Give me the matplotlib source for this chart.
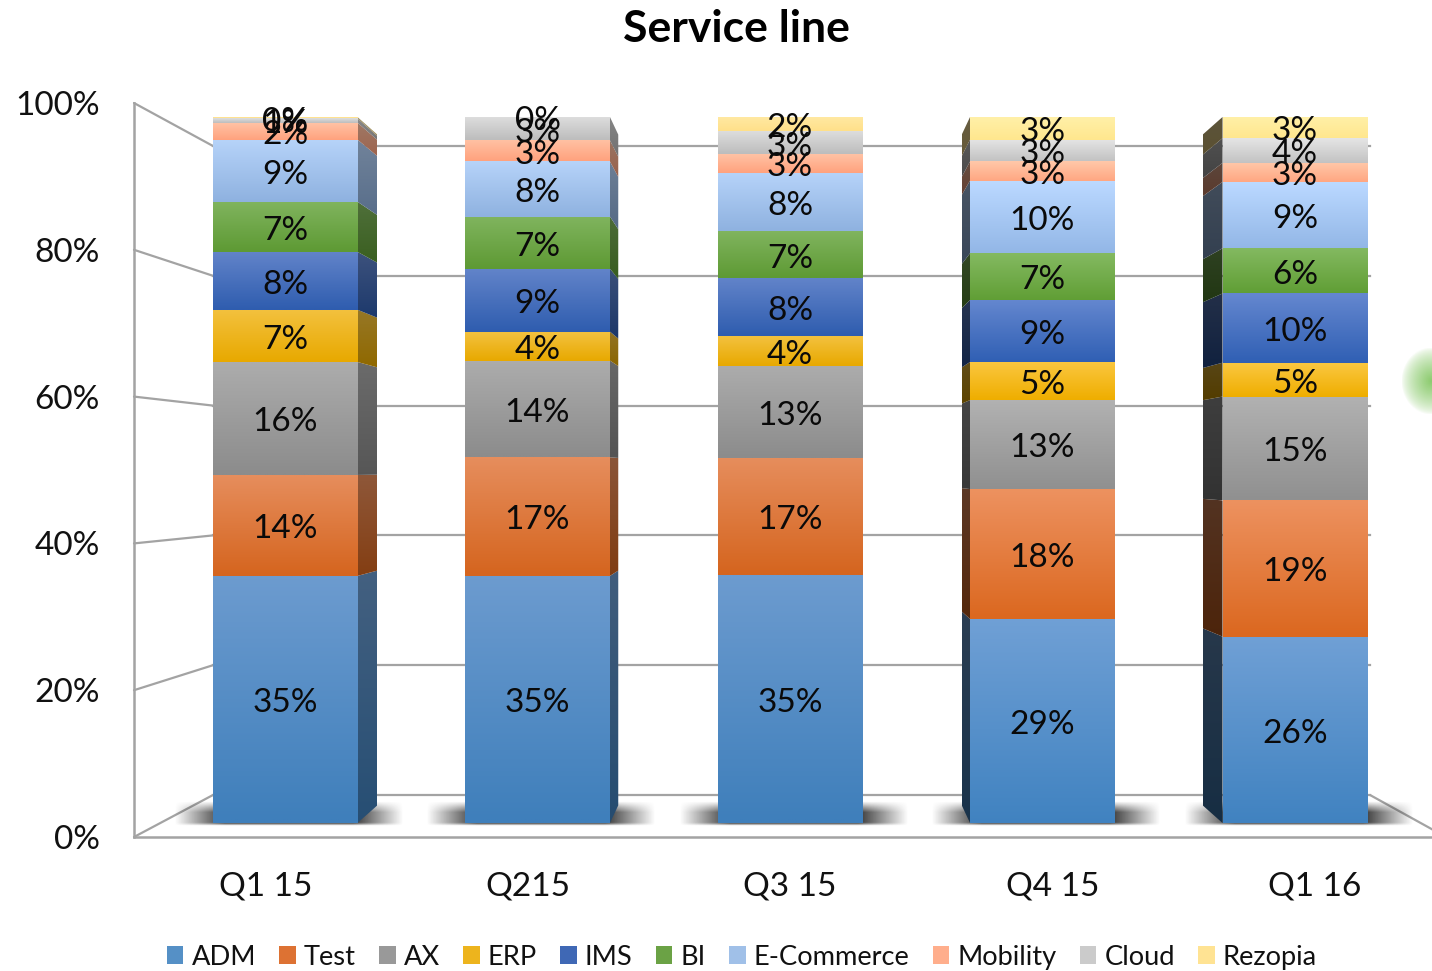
import numpy as np
import matplotlib
matplotlib.use("Agg")
import matplotlib.pyplot as plt
from matplotlib.patches import Polygon, ConnectionPatch, Patch
from matplotlib.colors import to_rgb

plt.rcParams['font.family'] = ['Lato', 'DejaVu Sans']

quarters = ['Q1 15', 'Q215', 'Q3 15', 'Q4 15', 'Q1 16']
adm      = [35.0, 35.0, 35.1, 28.9, 26.4]
test     = [14.3, 16.8, 16.6, 18.4, 19.3]
ax_line  = [16.0, 13.7, 13.1, 12.6, 14.7]
erp      = [7.4, 4.1, 4.2, 5.4, 4.8]
ims      = [8.2, 8.9, 8.2, 8.8, 9.8]
bi       = [7.1, 7.4, 6.6, 6.6, 6.4]
ecommerce = [8.8, 7.8, 8.3, 10.3, 9.4]
mobility = [2.4, 3.0, 2.6, 2.7, 2.7]
cloud    = [0.6, 3.3, 3.3, 3.1, 3.5]
rezopia  = [0.2, 0.0, 2.0, 3.2, 3.0]
series_names = ['ADM', 'Test', 'AX', 'ERP', 'IMS', 'BI', 'E-Commerce', 'Mobility', 'Cloud', 'Rezopia']
series_values = [adm, test, ax_line, erp, ims, bi, ecommerce, mobility, cloud, rezopia]
top_colors = ['#6C9BCF', '#E68D5C', '#ACACAC', '#F3C13E', '#6183C9', '#80B45E', '#B6D3F9', '#FFC2A4', '#DEDEDE', '#FFE9A3']
bot_colors = ['#3F7FBB', '#D5651F', '#8C8C8C', '#E8A900', '#2F5DAF', '#5E9A34', '#8FB2E0', '#FFA27E', '#BDBDBD', '#FFE08A']
leg_colors = ['#5590C6', '#DD7233', '#999999', '#EDB41D', '#3F68B5', '#6BA245', '#A0C0E8', '#FFAE8C', '#CBCBCB', '#FFE393']
side_shade = [0.62, 0.60, 0.60, 0.40, 0.36]
front_gain = [1.0, 1.0, 1.0, 1.03, 1.03]
GRID = '#A3A3A3'
W, H = 1432, 971


def box(l, t, r, b):
    return [l / W, 1 - b / H, (r - l) / W, (b - t) / H]


fig = plt.figure(figsize=(W / 100, H / 100), dpi=100, facecolor='white')

# back wall
back = fig.add_axes(box(213, 146, 1370, 795), zorder=0)
back.set_xlim(0, 1)
back.set_ylim(0, 100)
back.set_yticks(range(0, 101, 20))
back.set_xticks([])
back.tick_params(left=False, labelleft=False)
back.grid(axis='y', color=GRID, lw=1.6)
for s in back.spines.values():
    s.set_visible(False)
for g in back.get_ygridlines():
    g.set_clip_on(False)

# front axis frame with tick labels
frame = fig.add_axes(box(134, 103, 1446, 837), zorder=1)
frame.patch.set_alpha(0)
frame.set_xlim(-0.5, 4.5)
frame.set_ylim(0, 100)
frame.set_yticks(range(0, 101, 20))
frame.set_yticklabels([f'{v}%' for v in range(0, 101, 20)], fontsize=24, color='#111111')
frame.set_xticks(range(5))
frame.set_xticklabels(quarters, fontsize=24, color='#111111')
frame.tick_params(axis='y', length=0, pad=24.5)
frame.tick_params(axis='x', length=0, pad=25)
for n in ('top', 'right'):
    frame.spines[n].set_visible(False)
for n in ('left', 'bottom'):
    frame.spines[n].set_color(GRID)
    frame.spines[n].set_linewidth(1.8)

for v in range(0, 101, 20):
    fig.add_artist(ConnectionPatch((-0.5, v), (0, v), coordsA=frame.transData, coordsB=back.transData,
                                   color=GRID, lw=1.6, zorder=0.5))
fig.add_artist(ConnectionPatch((4.5, 0), (1, 0), coordsA=frame.transData, coordsB=back.transData,
                               color=GRID, lw=1.6, zorder=0.5))

# bars plane
ax = fig.add_axes(box(158.75, 117, 1421.25, 823), zorder=2)
ax.patch.set_alpha(0)
ax.set_autoscale_on(False)
ax.set_xlim(-0.5, 4.5)
ax.set_ylim(0, 100)
ax.axis('off')

HALF = 0.287
LABEL_SHIFT = 0.55


def depth_x(x):
    return 2 + (x - 2) * 0.954


def depth_y(y):
    return 2.5 + 0.95 * y


def grad(c_top, c_bot, n=32):
    t = np.linspace(0, 1, n)[:, None, None]
    return (1 - t) * np.array(to_rgb(c_top))[None, None, :] + t * np.array(to_rgb(c_bot))[None, None, :]


# floor shadows
for i in range(5):
    nx, ny = 120, 30
    xs = np.linspace(0, 1, nx)
    ys = np.linspace(0, 1, ny)
    fx = np.clip(np.minimum(xs, 1 - xs) / 0.22, 0, 1)
    fy = np.where(ys < 0.88, np.clip(ys / 0.45, 0, 1), np.clip((1 - ys) / 0.12, 0, 1))
    a = np.outer(fy, fx) * 0.92
    img = np.zeros((ny, nx, 4))
    img[..., :3] = 0.13
    img[..., 3] = a
    ax.imshow(img, extent=(i - 0.44, i + 0.47, -0.4, 3.1), aspect='auto', zorder=1,
              interpolation='bilinear', clip_on=False)

# stacked bars
for i in range(5):
    bottom = 0.0
    xf = i + HALF if i < 2 else i - HALF
    xb = depth_x(xf)
    for k, vals in enumerate(series_values):
        v = vals[i]
        top = bottom + v
        if v > 0:
            if abs(xb - xf) > 1e-6:
                poly = Polygon([(xf, bottom), (xf, top), (xb, depth_y(top)), (xb, depth_y(bottom))],
                               closed=True, transform=ax.transData, fc='none', ec='none')
                ax.add_patch(poly)
                shade = side_shade[i]
                im = ax.imshow(grad(top_colors[k], bot_colors[k]) * shade,
                               extent=(min(xf, xb), max(xf, xb), min(bottom, depth_y(bottom)), max(top, depth_y(top))),
                               aspect='auto', zorder=2, interpolation='bilinear')
                im.set_clip_path(poly)
            ax.imshow(np.clip(grad(top_colors[k], bot_colors[k]) * front_gain[i], 0, 1),
                      extent=(i - HALF, i + HALF, bottom, top),
                      aspect='auto', zorder=3, interpolation='bilinear')
        ax.text(i, bottom + v / 2 - LABEL_SHIFT, f'{round(v)}%', ha='center', va='center', fontsize=24,
                color='#0A0A0A', zorder=5)
        bottom = top

# green glow at the right edge
r = np.linspace(-1, 1, 60)
rr = np.sqrt(r[None, :] ** 2 + r[:, None] ** 2)
glow = np.zeros((60, 60, 4))
glow[..., :3] = to_rgb('#8CCB6E')
glow[..., 3] = np.clip(1 - rr, 0, 1) ** 0.7
ax.imshow(glow, extent=(4.42, 4.66, 57.8, 67.3), aspect='auto', zorder=1, clip_on=False, interpolation='bilinear')

ax.set_xlim(-0.5, 4.5)
ax.set_ylim(0, 100)

handles = [Patch(fc=c, ec='none') for c in leg_colors]
fig.legend(handles, series_names, loc='center', bbox_to_anchor=(742 / W, 1 - 957 / H), ncol=10, frameon=False,
           fontsize=19.6, handlelength=0.6, handleheight=0.6, handletextpad=0.3, columnspacing=0.86,
           labelcolor='#111111', borderpad=0, borderaxespad=0)

fig.text(736 / W, 1 - 29 / H, 'Service line', ha='center', va='center', fontsize=32, fontweight='bold', color='black')

fig.savefig('out.png', dpi=100, facecolor='white')
